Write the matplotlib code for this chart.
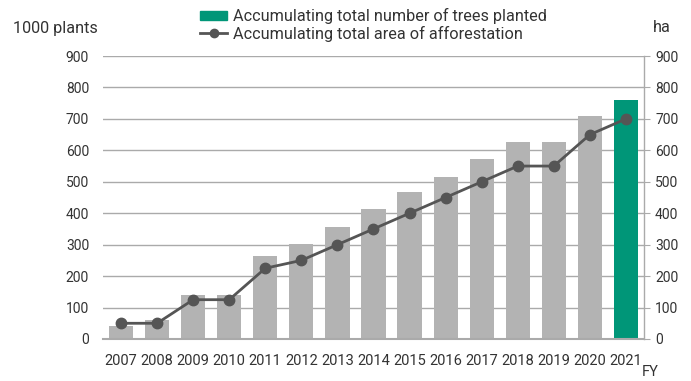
import matplotlib
matplotlib.use("Agg")
import matplotlib.pyplot as plt
import numpy as np
from matplotlib.patches import Patch
from matplotlib.lines import Line2D

years = ["2007", "2008", "2009", "2010", "2011", "2012", "2013", "2014",
         "2015", "2016", "2017", "2018", "2019", "2020", "2021"]
trees = [42, 60, 140, 140, 264, 301, 356, 413, 467, 516, 573, 626, 626, 709, 760]
area = [50, 50, 125, 125, 225, 250, 300, 350, 400, 450, 500, 550, 550, 650, 700]

plt.rcParams["font.family"] = ["Roboto", "DejaVu Sans"]
text_col = "#333333"
grid_col = "#aaaaaa"
bar_col = "#b3b3b3"
green = "#009678"
line_col = "#555555"

fig = plt.figure(figsize=(6.91, 3.81), dpi=100)
ax = fig.add_axes([103 / 691, 1 - 339 / 381, 541 / 691, 283 / 381])

x = np.arange(len(years))
colors = [bar_col] * (len(years) - 1) + [green]
ax.bar(x, trees, width=0.67, color=colors, zorder=2)

ax.set_xlim(-0.5, len(years) - 0.5)
ax.set_ylim(0, 900)
ax.set_yticks(range(0, 901, 100))
ax.set_xticks(x)
ax.set_xticklabels(years, family=["Liberation Sans Narrow", "Roboto"])
ax.grid(axis="y", color=grid_col, linewidth=1, zorder=0)
ax.set_axisbelow(True)
for s in ["left", "right", "top"]:
    ax.spines[s].set_visible(False)
ax.spines["bottom"].set_color(grid_col)
ax.spines["bottom"].set_linewidth(1.5)
ax.tick_params(axis="both", length=0, labelsize=10, colors=text_col)
ax.tick_params(axis="y", pad=10)
ax.tick_params(axis="x", pad=11, labelsize=10.5)

ax2 = ax.twinx()
ax2.plot(x, area, color=line_col, linewidth=2, marker="o", markersize=7.5, zorder=3)
ax2.set_ylim(0, 900)
ax2.set_yticks(range(0, 901, 100))
for s in ["left", "top", "bottom"]:
    ax2.spines[s].set_visible(False)
ax2.spines["right"].set_color(grid_col)
ax2.spines["right"].set_linewidth(1)
ax2.tick_params(axis="y", length=4, color=grid_col, labelsize=10, labelcolor=text_col, pad=4)

fig.text(13 / 691, 1 - 28 / 381, "1000 plants", fontsize=11.7, color=text_col, va="center")
fig.text(653 / 691, 1 - 28 / 381, "ha", fontsize=11.7, color=text_col, va="center")
fig.text(642 / 691, 1 - 372 / 381, "FY", fontsize=10.5, color=text_col, va="center")

handles = [Patch(color=green),
           Line2D([0], [0], color=line_col, linewidth=2, marker="o", markersize=6)]
labels = ["Accumulating total number of trees planted",
          "Accumulating total area of afforestation"]
fig.legend(handles, labels, loc="upper left", bbox_to_anchor=(200 / 691, 1 - 8 / 381),
           frameon=False, fontsize=11.7, handlelength=1.67, handleheight=0.5,
           labelspacing=0.1, handletextpad=0.37, borderpad=0, borderaxespad=0,
           labelcolor=text_col)

fig.savefig("out.png", dpi=100)
